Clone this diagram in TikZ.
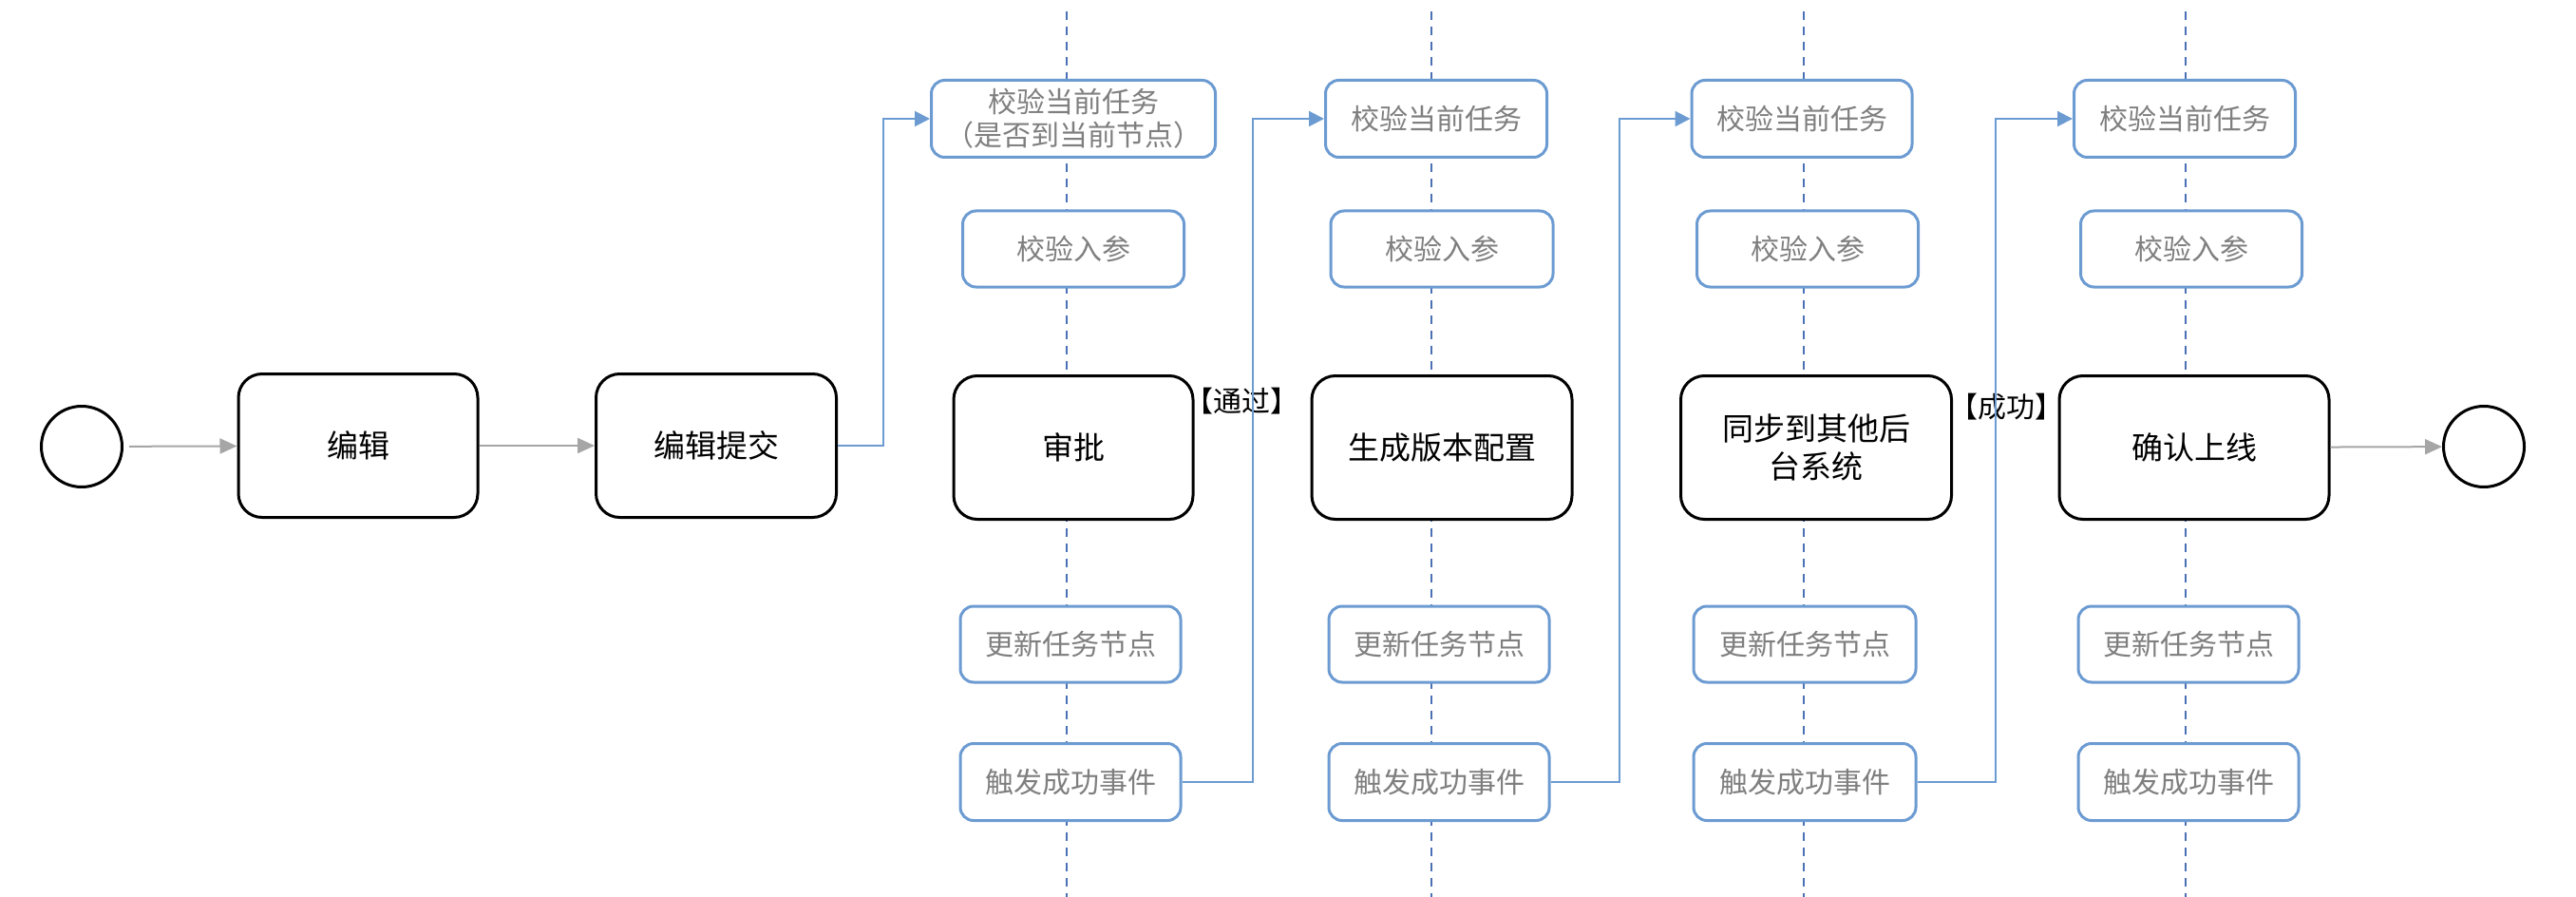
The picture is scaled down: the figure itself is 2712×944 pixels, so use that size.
\documentclass[tikz,border=0pt]{standalone}
\usepackage{fontspec}
\newfontfamily\cjk{Noto Sans CJK SC}
\usetikzlibrary{arrows.meta}
\definecolor{boxblue}{HTML}{6C9BD2}
\definecolor{lanblue}{HTML}{4A70B5}
\definecolor{txtgray}{HTML}{7F7F7F}
\definecolor{arrgray}{HTML}{A6A6A6}
\tikzset{
  task/.style={draw=black, line width=3pt, rounded corners=25pt, fill=white,
    minimum height=151pt, align=center, inner sep=0pt,
    font=\cjk\fontsize{33}{40}\selectfont},
  sub/.style={draw=boxblue, line width=3pt, rounded corners=14pt, fill=white,
    minimum height=80pt, align=center, inner sep=0pt, text=txtgray,
    font=\cjk\fontsize{30}{35}\selectfont},
  terminal/.style={draw=black, line width=3pt, circle, minimum size=85pt, inner sep=0pt},
  lane/.style={draw=lanblue, line width=2pt, dash pattern=on 9pt off 7pt},
  flow/.style={draw=arrgray, line width=2pt, -{Triangle[length=18pt,width=16pt]}},
  link/.style={draw=boxblue, line width=2pt, -{Triangle[length=16pt,width=16pt]}},
  lbl/.style={font=\cjk\fontsize{30}{36}\selectfont, inner sep=0pt}
}
\begin{document}
\begin{tikzpicture}[x=1pt,y=-1pt]
\useasboundingbox (0,0) rectangle (2712,944);
% lanes
\foreach \lx/\nm in {1123/l1,1507/l2,1899/l3,2301/l4}{
  \coordinate (\nm t) at (\lx,12);
  \coordinate (\nm b) at (\lx,944);
  \draw[lane] (\nm t) -- (\nm b);
}
% main nodes
\node[terminal] (start) at (86,470) {};
\node[task, minimum width=252pt] (e1) at (377,469) {编辑};
\node[task, minimum width=253pt] (e2) at (754,469) {编辑提交};
\node[task, minimum width=252pt] (a1) at (1130,471) {审批};
\node[task, minimum width=274pt] (a2) at (1518,471) {生成版本配置};
\node[task, minimum width=285pt] (a3) at (1912,471) {同步到其他后\\台系统};
\node[task, minimum width=284pt] (a4) at (2310,471) {确认上线};
\node[terminal] (end) at (2615,470) {};
% lane 1
\node[sub, minimum width=299pt, minimum height=81pt] (v1) at (1130,125) {校验当前任务\\（是否到当前节点）};
\node[sub, minimum width=233pt] (p1) at (1130,262) {校验入参};
\node[sub, minimum width=232pt] (u1) at (1127,678) {更新任务节点};
\node[sub, minimum width=232pt, minimum height=81pt] (t1) at (1127,823) {触发成功事件};
% lane 2
\node[sub, minimum width=233pt, minimum height=81pt] (v2) at (1512,125) {校验当前任务};
\node[sub, minimum width=234pt] (p2) at (1518,262) {校验入参};
\node[sub, minimum width=232pt] (u2) at (1515,678) {更新任务节点};
\node[sub, minimum width=232pt, minimum height=81pt] (t2) at (1515,823) {触发成功事件};
% lane 3
\node[sub, minimum width=232pt, minimum height=81pt] (v3) at (1897,125) {校验当前任务};
\node[sub, minimum width=233pt] (p3) at (1903,262) {校验入参};
\node[sub, minimum width=234pt] (u3) at (1900,678) {更新任务节点};
\node[sub, minimum width=234pt, minimum height=81pt] (t3) at (1900,823) {触发成功事件};
% lane 4
\node[sub, minimum width=233pt, minimum height=81pt] (v4) at (2300,125) {校验当前任务};
\node[sub, minimum width=233pt] (p4) at (2307,262) {校验入参};
\node[sub, minimum width=232pt] (u4) at (2304,678) {更新任务节点};
\node[sub, minimum width=232pt, minimum height=81pt] (t4) at (2304,823) {触发成功事件};
% labels
\node[lbl] (pass) at (1307,422) {【通过】};
\node[lbl] (ok) at (2112,428) {【成功】};
% gray flow
\draw[flow, shorten <=6pt] (start) -- (e1);
\draw[flow] (e1) -- (e2);
\draw[flow] (a4) -- (end);
% blue links
\coordinate (j1) at (930,0);
\coordinate (j2) at (1319,0);
\coordinate (j3) at (1705,0);
\coordinate (j4) at (2101,0);
\draw[link] (e2.east) -- (e2.east -| j1) |- (v1.west);
\draw[link] (t1.east) -- (t1.east -| j2) |- (v2.west);
\draw[link] (t2.east) -- (t2.east -| j3) |- (v3.west);
\draw[link] (t3.east) -- (t3.east -| j4) |- (v4.west);
\end{tikzpicture}
\end{document}
